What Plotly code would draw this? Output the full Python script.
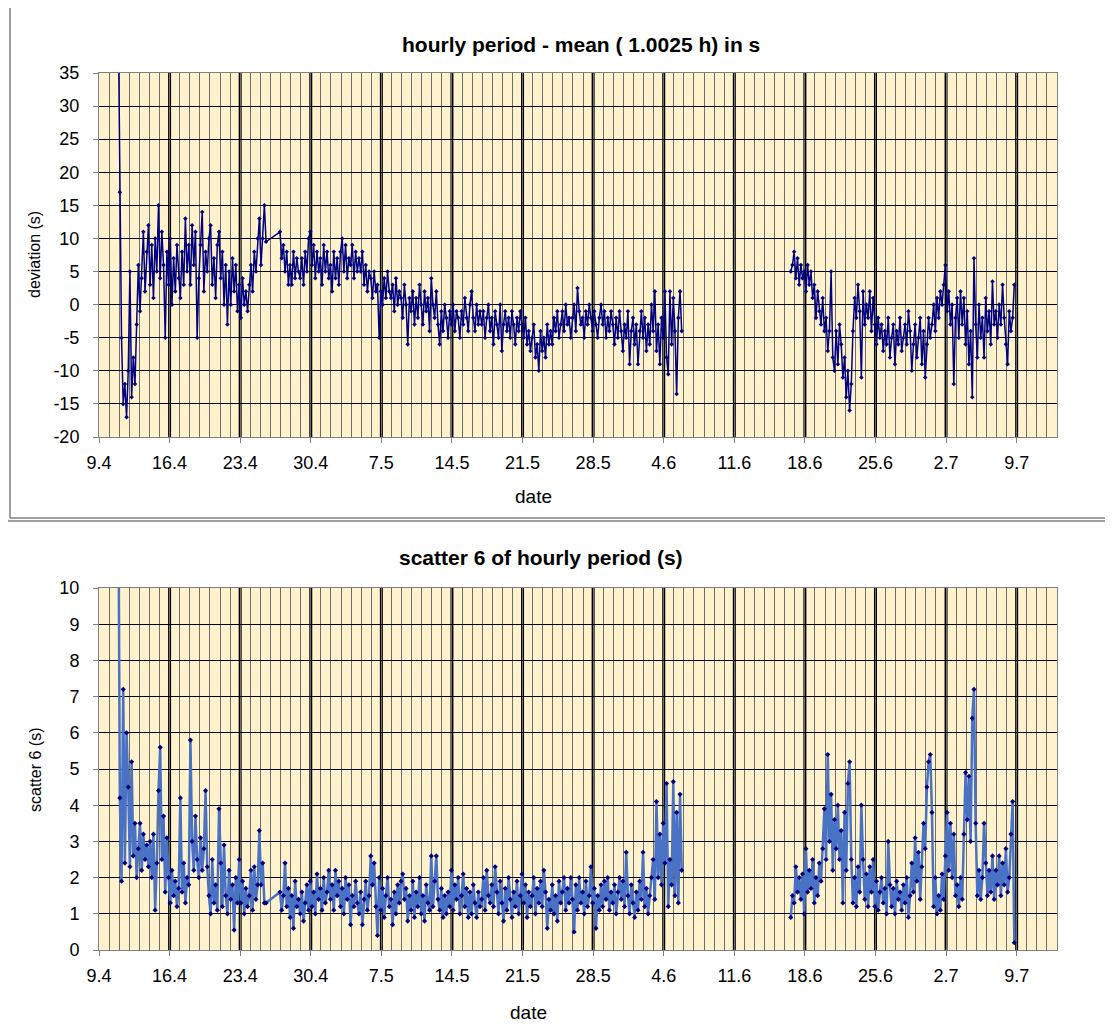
import plotly.graph_objects as go

W, H = 1113, 1032
OFF = 8  # page margin of the html body

# ---- axis categories ----
week_days = [0, 7, 14, 21, 28, 35, 42, 49, 56, 63, 70, 77, 84, 91]
week_labels = ["9.4", "16.4", "23.4", "30.4", "7.5", "14.5", "21.5", "28.5",
               "4.6", "11.6", "18.6", "25.6", "2.7", "9.7"]
dev_ticks = [-20, -15, -10, -5, 0, 5, 10, 15, 20, 25, 30, 35]
sc_ticks = [0, 1, 2, 3, 4, 5, 6, 7, 8, 9, 10]

# ---- sampling of the series (days since 9.4, every 4 hours) ----
seg_start = [1.9, 17.95, 68.6]
step = 1 / 6

# ---- hourly period - mean (s) ----
dev_a = [45, 17, -5, -15, -12, -17,
         -10, 5, -14, -8, -12, -3,
         6, -1, 4, 11, 2, 8,
         12, 3, 9, 1, 10, 5,
         15, 4, 11, 6, -5, 8,
         3, 10, 0, 7, 2, 9,
         4, 1, 8, 3, 13, 5,
         9, 3, 12, 6, 11, -5,
         4, 9, 14, 2, 8, 5,
         10, 12, 3, 7, 1, 9,
         11, 4, 8, 0, 6, -3,
         5, 0, 7, 2, 6, -1,
         3, -2, 4, 0, 2, -1,
         3, 6, 2, 8, 5, 10,
         13, 6, 10, 15, 9.5]
dev_b = [11, 7, 9, 5, 8, 3,
         6, 3, 8, 4, 7, 5,
         4, 7, 3, 8, 5, 10,
         11, 6, 9, 4, 8, 5,
         7, 3, 9, 5, 8, 4,
         6, 2, 8, 4, 7, 3,
         8, 10, 5, 9, 4, 7,
         6, 9, 4, 8, 5, 7,
         5, 8, 3, 6, 2, 5,
         4, 1, 5, 2, 3, -5,
         2, 0, 4, 1, 5, 2,
         1, 3, -1, 4, 0, 2,
         1, -2, 3, 0, -6, 1,
         -1, 2, -3, 1, -2, 3,
         0, -3, 2, -1, 1, -4,
         4, 0, -2, 2, -3, -6,
         -1, -4, 0, -2, -5, -1,
         -3, 0, -4, -1, -2, -5,
         -1, -3, 1, -2, -4, 0,
         2, -2, -4, 0, -3, -1,
         -3, -1, -5, -2, 0, -4,
         -2, -6, -1, -3, -5, 0,
         -7, -3, -1, -4, -2, -5,
         -1, -3, -6, -2, -4, -1,
         -3, -5, -2, -6, -4, -7,
         -5, -3, -8, -6, -10, -4,
         -7, -5, -8, -3, -6, -4,
         -6, -2, -4, -1, -5, -3,
         -1, -4, 0, -3, -2, -5,
         -2, 0, -4, 2.5, -1, -3,
         -2, -5, -1, -3, 0, -2,
         -4, -1, -3, -5, -2, 0,
         -3, -1, -5, -2, -4, -1,
         -3, -6, -2, -5, -1, -4,
         -7, -3, -5, -1, -9, -4,
         -2, -6, -3, -9, -4, -1,
         -5, -2, -7, -3, -6, 0,
         -4, 2, -7, -3, -9, -2,
         -5, 2, -8, -10.5, 2, -6,
         1, -4, -13.5, -2, 2, -4]
dev_c = [5, 6, 8, 4, 7, 3,
         6, 4, 5, 2, 6, 3,
         5, 1, 3, -2, 2, -1,
         -3, 1, -4, -2, -7, -4,
         5, -8, -10, -4, -9, -3,
         -6, -11, -8, -14, -10, -16,
         -12, -4, 1, -2, 3, -1,
         -11, 2, -3, 0, -2, 2,
         -4, 1, -3, -6, -2, -5,
         -3, -7, -4, -6, -2, -8,
         -5, -3, -9, -4, -6, -2,
         -7, -5, -3, -6, -1, -4,
         -10, -6, -3, -8, -5, -2,
         -9, -4, -11, -6, -2, -5,
         -3, 0, -4, 1, -2, 2,
         0, 3, 6, -1, 2, -3,
         0, -12, -2, 1, -5, 2,
         -3, 1, -6, -1, -9, -4,
         -14, 7, -3, -8, 0, -5,
         -2, -8, 1, -4, -1, -6,
         3.5, -3, -1, -5, 0, -3,
         3, -2, -6, -9, -1, -4,
         -2, 3]

# ---- scatter 6 of hourly period (s) ----
sc_a = [14, 4.2, 1.9, 7.2, 2.4, 6.0,
        4.5, 2.3, 5.2, 2.6, 3.5, 2.0,
        2.8, 3.5, 2.2, 3.2, 2.5, 2.9,
        2.3, 3.0, 2.0, 3.2, 1.1, 2.4,
        4.4, 5.6, 2.5, 3.7, 1.6, 3.1,
        2.0, 1.3, 2.2, 1.5, 1.9, 1.2,
        1.7, 4.2, 1.6, 2.4, 1.3, 2.0,
        1.8, 5.8, 3.0, 2.2, 3.7, 2.5,
        2.0, 3.1, 2.2, 2.8, 4.4, 2.3,
        1.5, 1.0, 2.5, 1.3, 1.8, 1.1,
        3.9, 2.4, 1.2, 2.9, 1.5, 1.0,
        2.2, 1.4, 1.8, 0.55, 2.0, 1.3,
        2.5, 1.3, 1.9, 1.0, 1.7, 1.2,
        1.5, 2.2, 1.1, 2.3, 1.4, 1.8,
        3.3, 1.8, 2.4, 1.3, 1.3]
sc_b = [1.6, 1.1, 1.5, 2.4, 1.2, 1.7,
        0.9, 1.5, 0.6, 1.9, 1.2, 1.4,
        1.0, 1.6, 0.8, 1.3, 1.8, 1.1,
        1.9, 1.2, 1.6, 1.0, 2.1, 1.4,
        1.7, 1.1, 2.0, 1.3, 1.6, 2.2,
        1.4, 1.8, 1.1, 2.2, 1.5, 1.9,
        1.2, 1.7, 1.0, 2.0, 1.4, 1.8,
        0.7, 1.5, 1.2, 1.9, 1.3, 1.0,
        1.6, 0.7, 1.4, 1.9, 1.1, 1.5,
        2.6, 1.8, 2.4, 1.2, 0.4, 2.0,
        1.1, 1.7, 0.9, 1.5, 2.0, 1.2,
        1.4, 0.7, 1.6, 1.0, 1.8, 1.3,
        1.9, 2.1, 1.4, 1.7, 0.8, 1.5,
        1.1, 1.9, 0.9, 1.6, 1.2, 2.0,
        1.0, 1.5, 0.8, 1.8, 1.3, 1.1,
        2.6, 1.2, 1.9, 2.6, 1.4, 1.1,
        1.7, 0.9, 1.5, 1.0, 1.6, 1.2,
        2.2, 1.1, 1.8, 1.4, 2.0, 1.0,
        1.5, 2.1, 1.2, 1.7, 0.9, 1.6,
        1.0, 1.8, 1.3, 0.9, 1.6, 1.2,
        1.4, 2.0, 1.1, 2.2, 1.5, 1.3,
        1.8, 1.2, 2.3, 1.6, 1.0, 1.9,
        1.3, 0.8, 1.7, 1.1, 2.0, 1.4,
        0.9, 1.6, 1.2, 1.9, 1.0, 1.5,
        2.1, 1.3, 1.8, 0.9, 1.6, 1.2,
        1.5, 2.0, 1.0, 1.7, 1.3, 1.9,
        1.2, 2.2, 1.6, 0.6, 1.4, 1.1,
        1.8, 1.0, 1.5, 0.8, 1.9, 1.3,
        1.6, 2.0, 1.1, 1.7, 1.3, 2.0,
        1.4, 0.5, 1.8, 1.1, 2.0, 1.3,
        1.6, 1.0, 1.9, 1.2, 1.5, 2.3,
        1.3, 1.7, 0.6, 1.5, 1.1, 1.8,
        1.2, 1.9, 1.4, 2.0, 1.1, 1.6,
        1.3, 1.8, 1.0, 1.6, 2.0, 1.4,
        1.9, 1.2, 2.7, 1.5, 1.0, 1.8,
        1.3, 0.9, 1.6, 1.1, 1.9, 1.4,
        2.7, 1.2, 1.7, 1.0, 1.5, 2.0,
        2.5, 1.4, 4.1, 2.0, 3.2, 1.8,
        3.5, 2.4, 4.6, 1.2, 2.5, 1.8,
        4.65, 1.5, 3.8, 1.3, 4.3, 2.2]
sc_c = [0.9, 1.5, 1.3, 2.3, 1.6, 2.0,
        1.4, 2.1, 1.0, 2.8, 1.6, 2.2,
        1.7, 2.5, 1.3, 2.0, 1.5, 2.4,
        1.9, 2.8, 3.9, 2.5, 5.4, 3.0,
        4.3, 2.2, 3.6, 2.8, 4.0, 2.5,
        3.3, 1.3, 3.8, 2.2, 4.6, 5.2,
        2.5, 1.3, 2.0, 1.2, 2.3, 1.6,
        4.0, 2.5, 1.4, 2.1, 1.2, 2.3,
        1.6, 2.5, 1.2, 1.9, 1.1, 1.6,
        2.0, 1.3, 1.7, 1.0, 3.0, 1.8,
        1.2, 1.7, 1.0, 1.9, 1.4, 1.6,
        1.1, 1.8, 1.3, 2.0, 0.9, 1.5,
        2.4, 1.6, 3.1, 1.9, 2.7, 1.4,
        2.3, 3.5, 2.8, 4.5, 5.2, 5.4,
        3.8, 1.2, 2.0, 1.0, 1.5, 1.1,
        2.1, 1.4, 2.6, 3.8, 2.2, 3.5,
        2.0, 3.2, 1.5, 1.8, 1.2, 2.0,
        1.4, 3.2, 4.9, 3.6, 4.8, 3.0,
        6.4, 7.2, 3.5, 1.5, 2.2, 1.4,
        2.0, 3.5, 2.4, 1.5, 2.2, 1.6,
        2.6, 1.4, 2.2, 1.8, 2.6, 1.5,
        2.4, 1.8, 2.8, 1.6, 2.0, 3.2,
        4.1, 0.2]


def build(segments):
    xs, ys = [], []
    for k, (start, vals) in enumerate(zip(seg_start, segments)):
        if k == 2:
            xs.append(None)
            ys.append(None)
        xs += [start + i * step for i in range(len(vals))]
        ys += vals
    return xs, ys


x_dev, y_dev = build([dev_a, dev_b, dev_c])
x_sc, y_sc = build([sc_a, sc_b, sc_c])


def px(x):
    return (x - OFF) / W


def py(y):
    return 1 - (y - OFF) / H


fig = go.Figure()
fig.add_trace(go.Scatter(x=x_dev, y=y_dev, mode="lines+markers",
                         line=dict(color="#000080", width=1.5),
                         marker=dict(color="#000080", size=3.5, symbol="diamond"),
                         connectgaps=False, xaxis="x", yaxis="y", showlegend=False))
fig.add_trace(go.Scatter(x=x_sc, y=y_sc, mode="lines+markers",
                         line=dict(color="#4A72C4", width=2.5),
                         marker=dict(color="#000080", size=4, symbol="diamond"),
                         connectgaps=False, xaxis="x2", yaxis="y2", showlegend=False))

font_family = "Liberation Sans, Arial, sans-serif"
axis_common = dict(showline=True, linecolor="#808080", linewidth=1, mirror=True,
                   zeroline=False, ticks="outside", ticklen=5, tickcolor="#808080",
                   automargin=False,
                   tickfont=dict(size=18, color="black", family=font_family))

xcommon = dict(axis_common, range=[0, 95], tickmode="array", tickvals=week_days,
               ticktext=week_labels, showgrid=False, ticklabelstandoff=4,
               minor=dict(tickmode="linear", tick0=0, dtick=1, showgrid=True,
                          gridcolor="#6e6e6e", gridwidth=1, ticks=""))

top_dom = [py(437), py(73)]
bot_dom = [py(950), py(588)]
xdom = [px(99), px(1057)]

fig.update_layout(
    template="none",
    width=W, height=H, margin=dict(l=0, r=0, t=0, b=0, pad=0, autoexpand=False),
    paper_bgcolor="white", plot_bgcolor="#FFF2CC",
    font=dict(family=font_family, color="black"),
    showlegend=False,
    xaxis=dict(xcommon, domain=xdom, anchor="y"),
    yaxis=dict(axis_common, domain=top_dom, anchor="x", range=[-20, 35],
               tickmode="array", tickvals=dev_ticks, ticktext=[str(v) for v in dev_ticks],
               ticklabelstandoff=10, showgrid=True, gridcolor="black", gridwidth=1),
    xaxis2=dict(xcommon, domain=xdom, anchor="y2"),
    yaxis2=dict(axis_common, domain=bot_dom, anchor="x2", range=[0, 10],
                tickmode="array", tickvals=sc_ticks, ticktext=[str(v) for v in sc_ticks],
                ticklabelstandoff=10, showgrid=True, gridcolor="black", gridwidth=1),
)

shapes = []
for xr, yr in (("x", "y domain"), ("x2", "y2 domain")):
    for d in week_days[1:]:
        shapes.append(dict(type="line", xref=xr, yref=yr, x0=d, x1=d, y0=0, y1=1,
                           line=dict(color="black", width=3), layer="below"))
# chart-area frames
shapes.append(dict(type="rect", xref="paper", yref="paper", x0=px(10), x1=px(1135),
                   y0=py(518), y1=py(3), line=dict(color="#404040", width=1)))
shapes.append(dict(type="rect", xref="paper", yref="paper", x0=px(2), x1=px(1110),
                   y0=py(1060), y1=py(521), line=dict(color="#404040", width=1)))
fig.update_layout(shapes=shapes)

ann = [
    dict(text="<b>hourly period - mean ( 1.0025 h) in s</b>", x=px(581), y=py(45), size=21),
    dict(text="<b>scatter 6 of hourly period (s)</b>", x=px(541), y=py(557), size=21),
    dict(text="date", x=px(533), y=py(497), size=19),
    dict(text="date", x=px(528), y=py(1012), size=19),
]
annotations = []
for a in ann:
    annotations.append(dict(text=a["text"], x=a["x"], y=a["y"], xref="paper", yref="paper",
                            xanchor="center", yanchor="middle", showarrow=False,
                            font=dict(size=a["size"], color="black", family=font_family)))
annotations.append(dict(text="deviation (s)", x=px(35), y=py(255), xref="paper", yref="paper",
                        xanchor="center", yanchor="middle", showarrow=False, textangle=-90,
                        font=dict(size=16, color="black", family=font_family)))
annotations.append(dict(text="scatter 6 (s)", x=px(35), y=py(770), xref="paper", yref="paper",
                        xanchor="center", yanchor="middle", showarrow=False, textangle=-90,
                        font=dict(size=16, color="black", family=font_family)))
fig.update_layout(annotations=annotations)

fig.write_html("out.html")
